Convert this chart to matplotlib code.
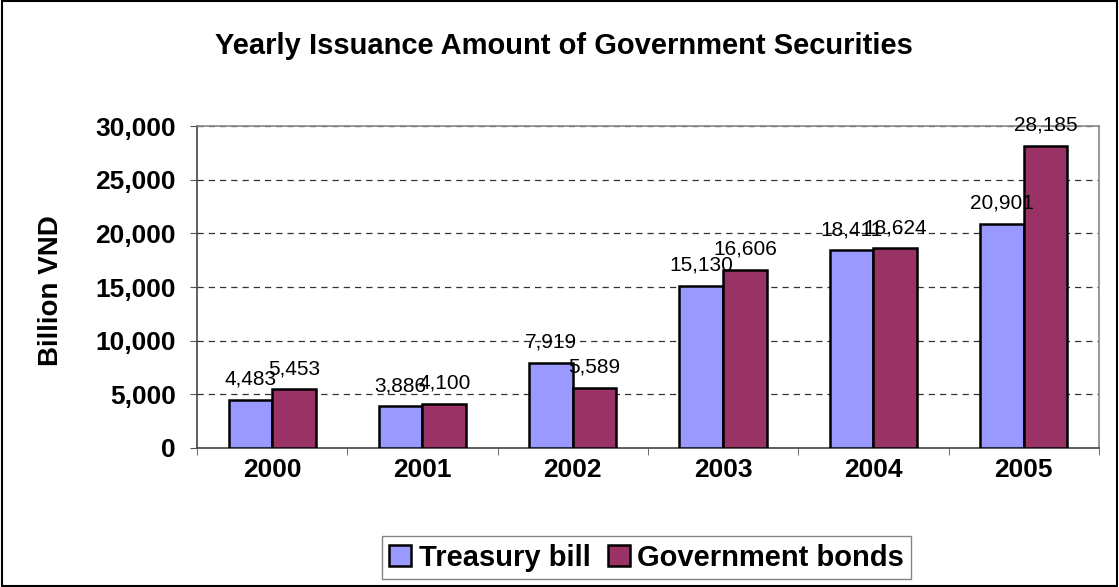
import matplotlib.pyplot as plt
import matplotlib.patches as mpatches
import numpy as np
from matplotlib.ticker import FuncFormatter

# ── Data ──────────────────────────────────────────────────────────────────────
years = ["2000", "2001", "2002", "2003", "2004", "2005"]
treasury_bill = [4483, 3886, 7919, 15130, 18411, 20901]
gov_bonds = [5453, 4100, 5589, 16606, 18624, 28185]

plt.rcParams["font.family"] = ["Liberation Sans", "DejaVu Sans"]

fig = plt.figure(figsize=(11.19, 5.87), dpi=100, facecolor="white")
ax = fig.add_axes([0.176, 0.237, 0.806, 0.548])

x = np.arange(len(years))
w = 0.29
b1 = ax.bar(x - w / 2, treasury_bill, w, color="#9999FF", edgecolor="black",
            linewidth=1.8, label="Treasury bill", zorder=3)
b2 = ax.bar(x + w / 2, gov_bonds, w, color="#993366", edgecolor="black",
            linewidth=1.8, label="Government bonds", zorder=3)

for bars, vals in ((b1, treasury_bill), (b2, gov_bonds)):
    for bar, v in zip(bars, vals):
        ax.annotate(f"{v:,}", (bar.get_x() + bar.get_width() / 2, v),
                    xytext=(0, 8), textcoords="offset points",
                    ha="center", va="bottom", fontsize=15, zorder=4)

ax.set_xlim(-0.5, len(years) - 0.5)
ax.set_ylim(0, 30000)
ax.set_yticks(np.arange(0, 30001, 5000))
ax.yaxis.set_major_formatter(FuncFormatter(lambda v, p: f"{int(v):,}"))
ax.set_xticks(x)
ax.set_xticklabels(years)
ax.set_xticks(np.arange(-0.5, len(years)), minor=True)
ax.tick_params(axis="x", which="major", length=0, pad=7, labelsize=19)
ax.tick_params(axis="x", which="minor", length=5, direction="out", color="#555555")
ax.tick_params(axis="y", length=5, direction="out", pad=10, labelsize=19, color="#555555")
for lbl in ax.get_xticklabels() + ax.get_yticklabels():
    lbl.set_fontweight("bold")

ax.grid(axis="y", linestyle=(0, (5, 4)), color="#333333", linewidth=0.9, zorder=0)
for side in ("top", "right"):
    ax.spines[side].set_color("#888888")
for side in ("left", "bottom"):
    ax.spines[side].set_color("#444444")
for s in ax.spines.values():
    s.set_linewidth(1.2)

ax.set_ylabel("Billion VND", fontsize=20, fontweight="bold")
ax.yaxis.set_label_coords(-0.147, 0.49)
fig.text(0.504, 0.922, "Yearly Issuance Amount of Government Securities",
         ha="center", va="center", fontsize=21, fontweight="bold")

leg = fig.legend(handles=[b1, b2], loc="lower center", bbox_to_anchor=(0.578, 0.004),
                 ncol=2, frameon=True, fancybox=False, edgecolor="#666666",
                 prop={"weight": "bold", "size": 21}, handlelength=0.75,
                 handleheight=0.75, handletextpad=0.25, columnspacing=0.6,
                 borderpad=0.25, borderaxespad=0.2)
leg.get_frame().set_linewidth(1.0)

fig.add_artist(mpatches.Rectangle((0.0015, 0.002), 0.997, 0.996, transform=fig.transFigure,
                                  fill=False, edgecolor="black", linewidth=1.5))

fig.savefig("out.png", dpi=100, facecolor="white")
